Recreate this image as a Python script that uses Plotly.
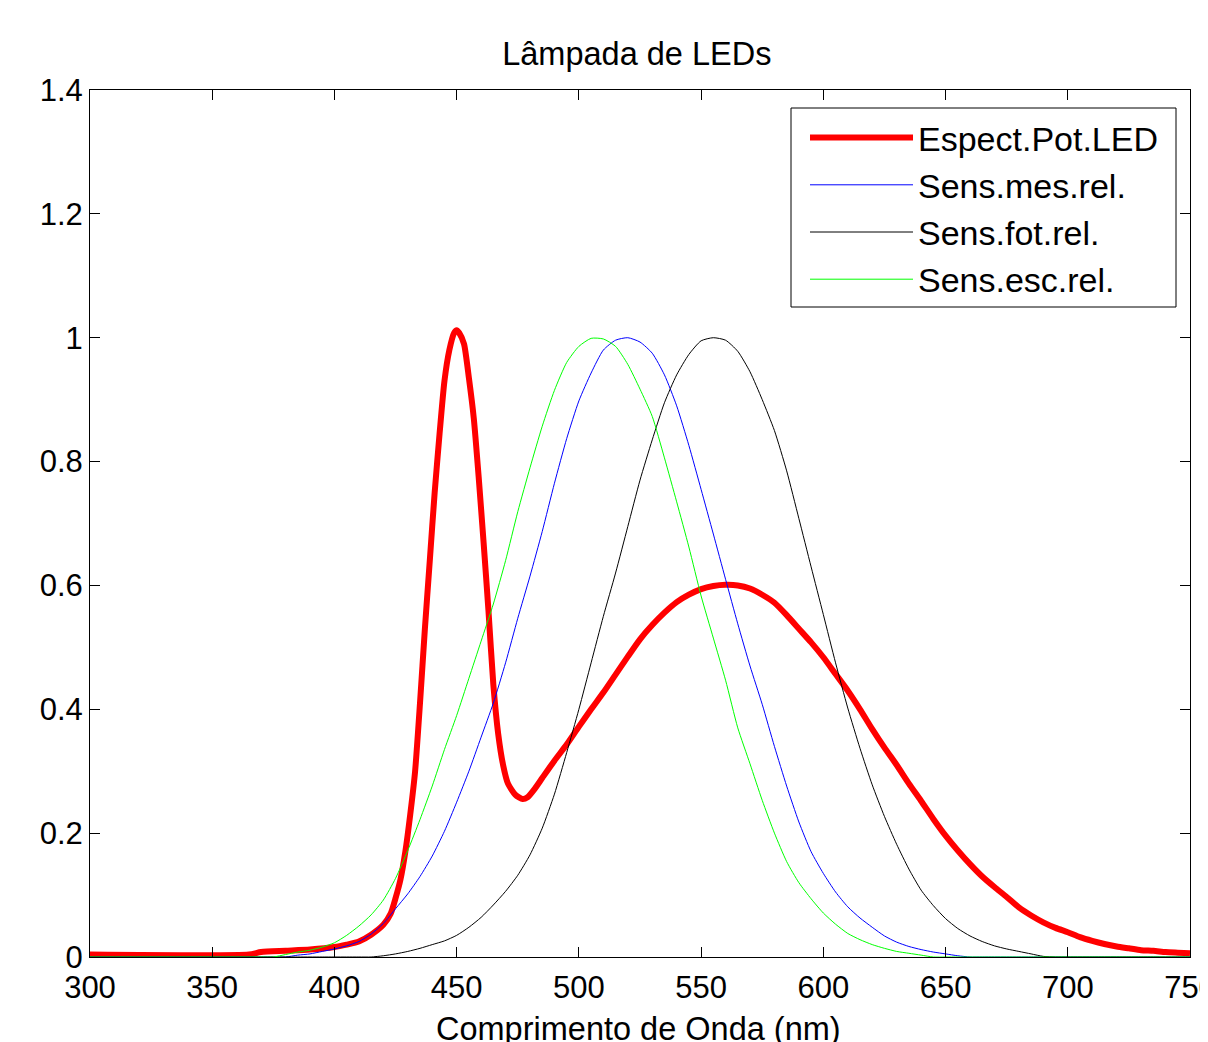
import plotly.graph_objects as go

# ---------------- data ----------------
wl_led = [300, 365, 370, 380, 390, 400, 405, 410, 415, 420, 423, 425, 427, 429, 431, 433,
          435, 437, 439, 441, 443, 445, 447, 449, 450, 451, 453, 455, 457, 459, 461, 463,
          465, 467, 469, 471, 474, 477, 479, 482, 485, 490, 495, 500, 505, 510, 515, 520,
          525, 530, 535, 540, 545, 550, 555, 560, 565, 570, 575, 580, 585, 590, 595, 600,
          605, 610, 615, 620, 625, 630, 635, 640, 645, 650, 655, 660, 665, 670, 675, 680,
          685, 690, 695, 700, 705, 710, 715, 720, 725, 730, 735, 740, 745, 750]
led = [0.004, 0.004, 0.008, 0.010, 0.012, 0.016, 0.020, 0.025, 0.036, 0.052, 0.070, 0.095,
       0.125, 0.170, 0.230, 0.300, 0.410, 0.530, 0.640, 0.750, 0.845, 0.930, 0.980, 1.008,
       1.012, 1.008, 0.990, 0.935, 0.870, 0.775, 0.670, 0.560, 0.440, 0.360, 0.310, 0.280,
       0.262, 0.255, 0.258, 0.272, 0.289, 0.317, 0.343, 0.372, 0.400, 0.427, 0.456, 0.485,
       0.513, 0.536, 0.556, 0.573, 0.585, 0.594, 0.599, 0.601, 0.600, 0.595, 0.585, 0.572,
       0.552, 0.530, 0.508, 0.484, 0.457, 0.430, 0.400, 0.368, 0.338, 0.310, 0.280, 0.252,
       0.223, 0.196, 0.172, 0.150, 0.130, 0.113, 0.097, 0.080, 0.067, 0.056, 0.047, 0.040,
       0.032, 0.026, 0.021, 0.017, 0.014, 0.011, 0.010, 0.008, 0.007, 0.006]

wl = list(range(300, 755, 5))

sens_mes = [0]*17 + [0.003, 0.005, 0.009, 0.013, 0.018, 0.025, 0.037, 0.054, 0.078, 0.102,
            0.130, 0.163, 0.203, 0.250, 0.300, 0.355, 0.410, 0.475, 0.547, 0.615, 0.687,
            0.765, 0.837, 0.898, 0.943, 0.980, 0.996, 1.000, 0.993, 0.975, 0.940, 0.890,
            0.826, 0.755, 0.683, 0.610, 0.538, 0.470, 0.408, 0.340, 0.276, 0.218, 0.170,
            0.135, 0.105, 0.081, 0.063, 0.048, 0.034, 0.024, 0.017, 0.012, 0.008, 0.005,
            0.002] + [0]*19

sens_fot = [0]*24 + [0.002, 0.005, 0.009, 0.014, 0.020, 0.026, 0.035, 0.048, 0.064, 0.084,
            0.106, 0.132, 0.165, 0.208, 0.263, 0.330, 0.400, 0.475, 0.550, 0.620, 0.695,
            0.770, 0.835, 0.895, 0.940, 0.973, 0.995, 1.000, 0.996, 0.978, 0.945, 0.900,
            0.850, 0.785, 0.708, 0.630, 0.553, 0.475, 0.402, 0.337, 0.278, 0.227, 0.182,
            0.142, 0.108, 0.083, 0.062, 0.046, 0.034, 0.025, 0.018, 0.013, 0.009, 0.005,
            0.001] + [0]*12

sens_esc = [0]*16 + [0.004, 0.008, 0.011, 0.016, 0.023, 0.035, 0.050, 0.068, 0.092, 0.127,
            0.172, 0.222, 0.276, 0.335, 0.390, 0.450, 0.510, 0.570, 0.640, 0.719, 0.790,
            0.857, 0.915, 0.960, 0.986, 0.999, 0.998, 0.986, 0.957, 0.917, 0.873, 0.806,
            0.735, 0.662, 0.583, 0.515, 0.447, 0.370, 0.312, 0.253, 0.200, 0.154, 0.120,
            0.094, 0.071, 0.053, 0.038, 0.028, 0.020, 0.014, 0.009, 0.006, 0.003] + [0]*22

x_ticks = [300, 350, 400, 450, 500, 550, 600, 650, 700, 750]
y_ticks = [0, 0.2, 0.4, 0.6, 0.8, 1, 1.2, 1.4]
y_tick_text = ["0", "0.2", "0.4", "0.6", "0.8", "1", "1.2", "1.4"]

names = ["Espect.Pot.LED", "Sens.mes.rel.", "Sens.fot.rel.", "Sens.esc.rel."]
title_text = "Lâmpada de LEDs"
x_title = "Comprimento de Onda (nm)"

# ---------------- figure ----------------
FONT = "Liberation Sans, Arial, Helvetica, sans-serif"
W, H = 1200, 1034  # page body has an 8px margin
L, R, T, B = 82, 18, 82, 85
PW, PH = W - L - R, H - T - B


def px_x(px):  # page pixel -> paper x
    return (px - 8 - L) / PW


def px_y(py):  # page pixel -> paper y
    return (H - B - (py - 8)) / PH


fig = go.Figure()
fig.add_trace(go.Scatter(x=wl_led, y=led, name=names[0], mode="lines",
                         line=dict(color="#FF0000", width=6, shape="spline", smoothing=0.6),
                         legendgroup="a"))
fig.add_trace(go.Scatter(x=wl, y=sens_mes, name=names[1], mode="lines",
                         line=dict(color="#0000FF", width=1, shape="spline", smoothing=0.6),
                         legendgroup="b"))
fig.add_trace(go.Scatter(x=wl, y=sens_fot, name=names[2], mode="lines",
                         line=dict(color="#000000", width=1, shape="spline", smoothing=0.6),
                         legendgroup="c"))
fig.add_trace(go.Scatter(x=wl, y=sens_esc, name=names[3], mode="lines",
                         line=dict(color="#00FF00", width=1, shape="spline", smoothing=0.6),
                         legendgroup="d"))

# legend frame (MATLAB style box with inner padding)
fig.add_shape(type="rect", xref="paper", yref="paper",
              x0=px_x(791), x1=px_x(1176), y0=px_y(307), y1=px_y(108),
              line=dict(color="black", width=1), fillcolor="white", layer="above")

# x-axis label (placed like MATLAB's, partly cut by the figure edge)
fig.add_annotation(text=x_title, xref="paper", yref="paper",
                   x=px_x(638), y=px_y(1029), xanchor="center", yanchor="middle",
                   showarrow=False, font=dict(family=FONT, size=32.5, color="black"))

fig.update_layout(
    width=W, height=H,
    margin=dict(l=L, r=R, t=T, b=B, autoexpand=False),
    paper_bgcolor="white", plot_bgcolor="white",
    font=dict(family=FONT, size=31, color="black"),
    title=dict(text=title_text, x=0.524, xanchor="center", y=1 - 46 / H, yanchor="middle",
               font=dict(family=FONT, size=32.5, color="black")),
    showlegend=True,
    legend=dict(x=px_x(805), xanchor="left", y=px_y(109), yanchor="top",
                bgcolor="rgba(0,0,0,0)", borderwidth=0,
                font=dict(family=FONT, size=34, color="black"),
                itemwidth=103, tracegroupgap=0, traceorder="grouped"),
)

fig.update_xaxes(range=[300, 750], tickmode="array", tickvals=x_ticks,
                 ticks="inside", ticklen=10, tickcolor="black", tickwidth=1,
                 showline=True, linecolor="black", linewidth=1, mirror="ticks",
                 showgrid=False, zeroline=False, ticklabeloverflow="allow",
                 automargin=False, ticklabelstandoff=3,
                 tickfont=dict(family=FONT, size=31, color="black"))
fig.update_yaxes(range=[0, 1.4], tickmode="array", tickvals=y_ticks, ticktext=y_tick_text,
                 ticks="inside", ticklen=10, tickcolor="black", tickwidth=1,
                 showline=True, linecolor="black", linewidth=1, mirror="ticks",
                 showgrid=False, zeroline=False, automargin=False,
                 tickfont=dict(family=FONT, size=31, color="black"))

fig.write_html("out.html")
